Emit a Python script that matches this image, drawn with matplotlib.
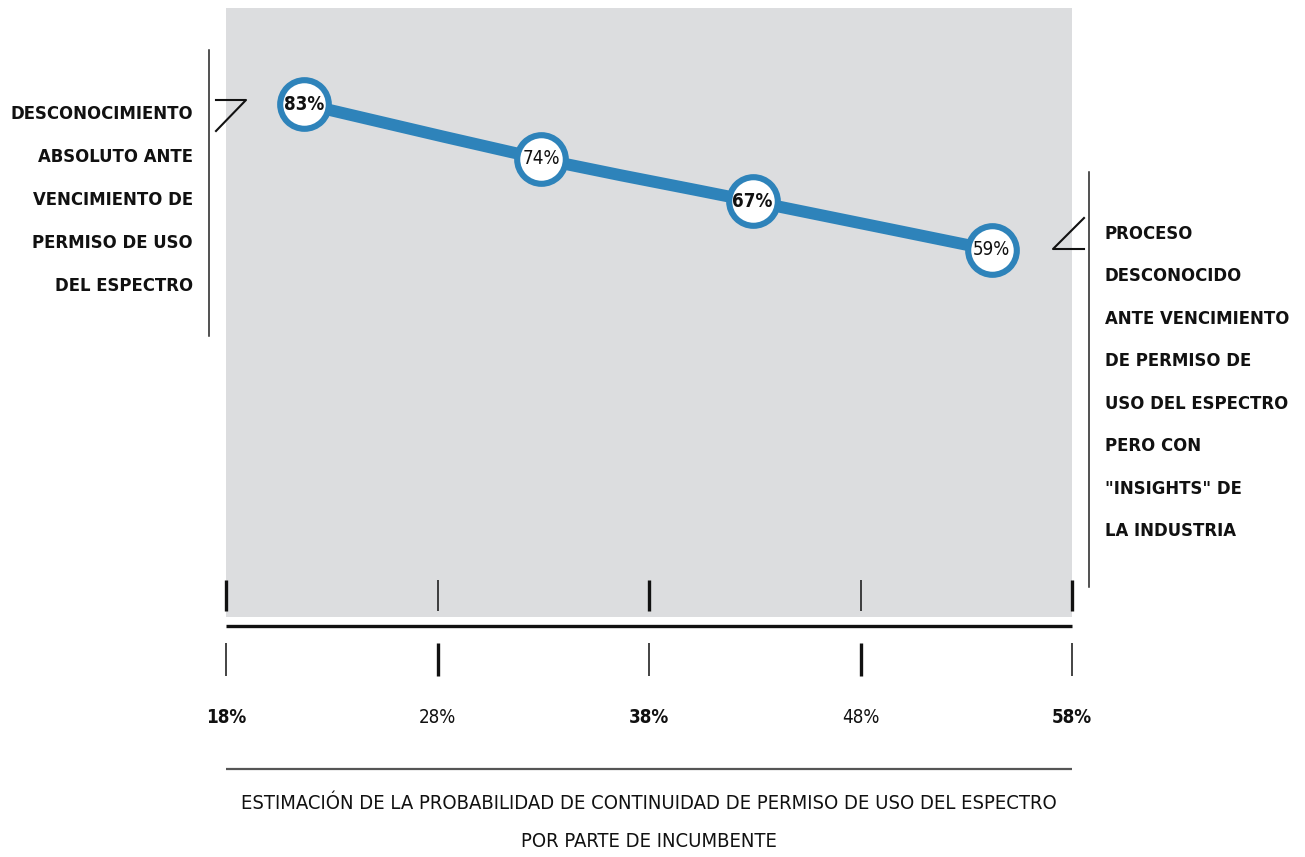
import matplotlib
matplotlib.use("Agg")
import matplotlib.pyplot as plt
from matplotlib.path import Path
from matplotlib.patches import PathPatch

# -------------------------------------------------------------------
# DATA
# -------------------------------------------------------------------
prob_x = [21.7, 32.9, 42.9, 54.2]          # position on the x scale (%)
share_y = [83, 74, 67, 59]                 # value shown in each circle (%)
point_labels = ["83%", "74%", "67%", "59%"]
x_ticks = [18, 28, 38, 48, 58]
x_tick_labels = ["18%", "28%", "38%", "48%", "58%"]

left_note = ["DESCONOCIMIENTO", "ABSOLUTO ANTE", "VENCIMIENTO DE",
             "PERMISO DE USO", "DEL ESPECTRO"]
right_note = ["PROCESO", "DESCONOCIDO", "ANTE VENCIMIENTO", "DE PERMISO DE",
              "USO DEL ESPECTRO", "PERO CON", "\"INSIGHTS\" DE", "LA INDUSTRIA"]
x_title = ["ESTIMACIÓN DE LA PROBABILIDAD DE CONTINUIDAD DE PERMISO DE USO DEL ESPECTRO",
           "POR PARTE DE INCUMBENTE"]

# -------------------------------------------------------------------
# STYLE
# -------------------------------------------------------------------
W, H = 1305, 857
BLUE = "#2e83ba"
PANEL = "#dcdddf"
INK = "#111111"
FONT = ["Liberation Sans Narrow", "DejaVu Sans"]
point_weights = ["bold", "normal", "bold", "normal"]
top_tick_bold = [True, False, True, False, True]
tick_label_weights = ["bold", "normal", "bold", "normal", "bold"]
NOTE_SIZE = 13.2

plt.rcParams["font.family"] = FONT
plt.rcParams["font.stretch"] = "condensed"

fig = plt.figure(figsize=(W / 100, H / 100), dpi=100)

# main panel (pixel box 226..1072 x 8..617)
ax = fig.add_axes([226 / W, 1 - 617 / H, 846 / W, 609 / H])
ax.set_facecolor(PANEL)
for s in ax.spines.values():
    s.set_visible(False)
ax.set_xticks([])
ax.set_yticks([])
ax.set_xlim(18, 58)
ax.set_ylim(-1.4, 98.8)


def smooth_path(xs, ys):
    # Catmull-Rom through the points, written as cubic Bezier segments
    pts = list(zip(xs, ys))
    ext = [pts[0]] + pts + [pts[-1]]
    verts = [pts[0]]
    codes = [Path.MOVETO]
    for i in range(1, len(ext) - 2):
        p0, p1, p2, p3 = ext[i - 1], ext[i], ext[i + 1], ext[i + 2]
        c1 = (p1[0] + (p2[0] - p0[0]) / 6, p1[1] + (p2[1] - p0[1]) / 6)
        c2 = (p2[0] - (p3[0] - p1[0]) / 6, p2[1] - (p3[1] - p1[1]) / 6)
        verts += [c1, c2, p2]
        codes += [Path.CURVE4] * 3
    return Path(verts, codes)


ax.add_patch(PathPatch(smooth_path(prob_x, share_y), fill=False,
                       edgecolor=BLUE, lw=8.6, capstyle="round", zorder=2))
ax.plot(prob_x, share_y, "o", ms=35, mfc="white", mec=BLUE, mew=4.4,
        zorder=3, clip_on=False)
for x, y, lab, w in zip(prob_x, share_y, point_labels, point_weights):
    ax.text(x, y, lab, ha="center", va="center", fontsize=13.5, fontweight=w,
            color=INK, zorder=4)

# ticks and axis line (y in axes fraction, x in data)
xt = ax.get_xaxis_transform()
for x, bold in zip(x_ticks, top_tick_bold):
    ax.plot([x, x], [37 / 609, 6 / 609], transform=xt, color=INK,
            lw=2.4 if bold else 1.1, solid_capstyle="butt", clip_on=False)
    ax.plot([x, x], [-26 / 609, -59 / 609], transform=xt, color=INK,
            lw=1.1 if bold else 2.4, solid_capstyle="butt", clip_on=False)
ax.plot([18, 58], [-9 / 609, -9 / 609], transform=xt, color=INK, lw=2.4,
        solid_capstyle="butt", clip_on=False)
ax.plot([18, 58], [-152 / 609, -152 / 609], transform=xt, color="#555555",
        lw=1.6, solid_capstyle="butt", clip_on=False)
for x, lab, w in zip(x_ticks, x_tick_labels, tick_label_weights):
    ax.text(x, -106 / 609, lab, transform=xt, ha="center", va="baseline",
            fontsize=13.5, fontweight=w, color=INK, clip_on=False)

# overlay in pixel coordinates for notes and brackets
ov = fig.add_axes([0, 0, 1, 1], zorder=5)
ov.set_xlim(0, W)
ov.set_ylim(H, 0)
ov.axis("off")
ov.patch.set_alpha(0)

ov.plot([209, 209], [50, 336], color="#222222", lw=1.1)
ov.plot([216, 246, 216], [100, 100, 131], color=INK, lw=1.5)
for i, line in enumerate(left_note):
    ov.text(193, 119 + 43 * i, line, ha="right", va="baseline",
            fontsize=NOTE_SIZE, fontweight="bold", color=INK)

ov.plot([1089, 1089], [172, 587], color="#222222", lw=1.1)
ov.plot([1084, 1053, 1084], [218, 249, 249], color=INK, lw=1.5)
for i, line in enumerate(right_note):
    ov.text(1105, 238.6 + 42.5 * i, line, ha="left", va="baseline",
            fontsize=NOTE_SIZE, fontweight="bold", color=INK)

for i, line in enumerate(x_title):
    ov.text(649, 809 + 38 * i, line, ha="center", va="baseline",
            fontsize=14.5, color=INK)

fig.savefig("out.png", dpi=100)
